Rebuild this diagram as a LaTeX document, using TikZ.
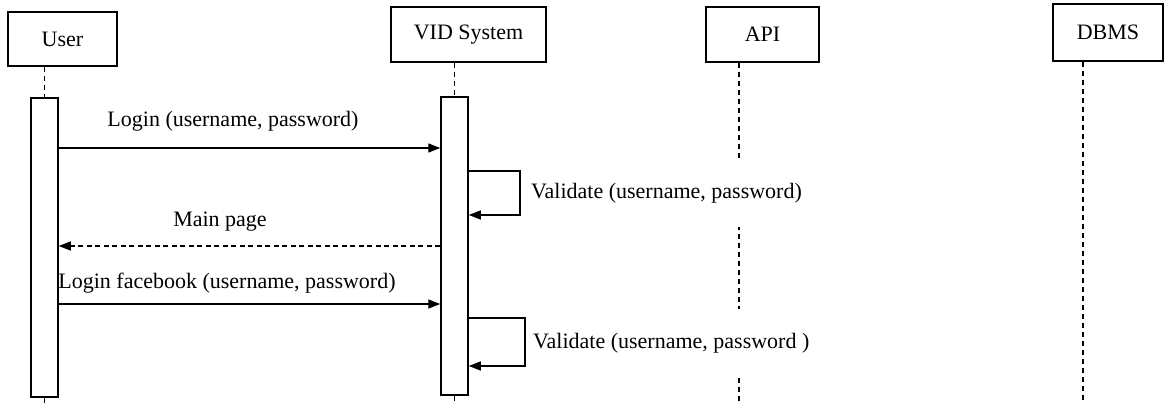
\documentclass[tikz,border=0pt]{standalone}
\usepackage{fontspec}
\setmainfont{Liberation Serif}
\usetikzlibrary{arrows.meta}
\begin{document}
\begin{tikzpicture}[x=1pt,y=-1pt,
  every node/.style={font=\fontsize{22}{26}\selectfont},
  actor/.style={draw,line width=1.5pt,fill=white,inner sep=0pt},
  actbar/.style={draw,line width=1.5pt,fill=white,minimum width=27pt,inner sep=0pt},
  life/.style={line width=1.5pt,dash pattern=on 5pt off 4pt},
  msg/.style={line width=1.4pt,-{Triangle[length=12pt,width=9pt]}},
  reply/.style={msg,dash pattern=on 5pt off 3.5pt},
  lbl/.style={inner sep=1pt},
  selflbl/.style={fill=white,inner xsep=2pt,inner ysep=24pt,anchor=west}]
\useasboundingbox (0,0) rectangle (1166,403);
\fill[white] (0,0) rectangle (1166,403);

% participant heads
\node[actor,minimum width=109pt,minimum height=54pt] (user) at (62.5,39) {User};
\node[actor,minimum width=155pt,minimum height=55pt] (vid) at (468.5,34.5) {VID System};
\node[actor,minimum width=113pt,minimum height=55pt] (api) at (762.5,34.5) {API};
\node[actor,minimum width=110pt,minimum height=57pt] (dbms) at (1108,32.5) {DBMS};

% activation bars
\node[actbar,minimum height=299pt] (uact) at (44.5,247.5) {};
\node[actbar,minimum height=298pt] (vact) at (454.5,246) {};

% lifeline ends at the bottom edge
\coordinate (uend) at (44.5,403);
\coordinate (vend) at (454.5,403);
\coordinate (aend) at (739,403);
\coordinate (dend) at (1083,403);
\draw[life] (uend |- user.south) -- (uact.north);
\draw[life] (uact.south) -- (uend);
\draw[life] (vend |- vid.south) -- (vact.north);
\draw[life] (vact.south) -- (vend);
\draw[life] (aend |- api.south) -- (aend);
\draw[life] (dend |- dbms.south) -- (dend);

% message levels
\coordinate (y1) at (0,148);
\coordinate (y2) at (0,246);
\coordinate (y3) at (0,304);

% messages
\draw[msg] (uact.east |- y1) -- (vact.west |- y1);
\node[lbl] (m1) at (233,121) {Login (username, password)};

\coordinate (l1a) at (520,171);
\coordinate (l1b) at (520,215);
\draw[msg] (vact.east |- l1a) -- (l1a) -- (l1b) -- (vact.east |- l1b);
\node[selflbl] (v1) at (529,193) {Validate (username, password)};

\draw[reply] (vact.west |- y2) -- (uact.east |- y2);
\node[lbl] (m2) at (220,222) {Main page};

\draw[msg] (uact.east |- y3) -- (vact.west |- y3);
\node[lbl] (m3) at (227,283) {Login facebook (username, password)};

\coordinate (l2a) at (525,318);
\coordinate (l2b) at (525,366);
\draw[msg] (vact.east |- l2a) -- (l2a) -- (l2b) -- (vact.east |- l2b);
\node[selflbl] (v2) at (531,343) {Validate (username, password )};
\end{tikzpicture}
\end{document}
